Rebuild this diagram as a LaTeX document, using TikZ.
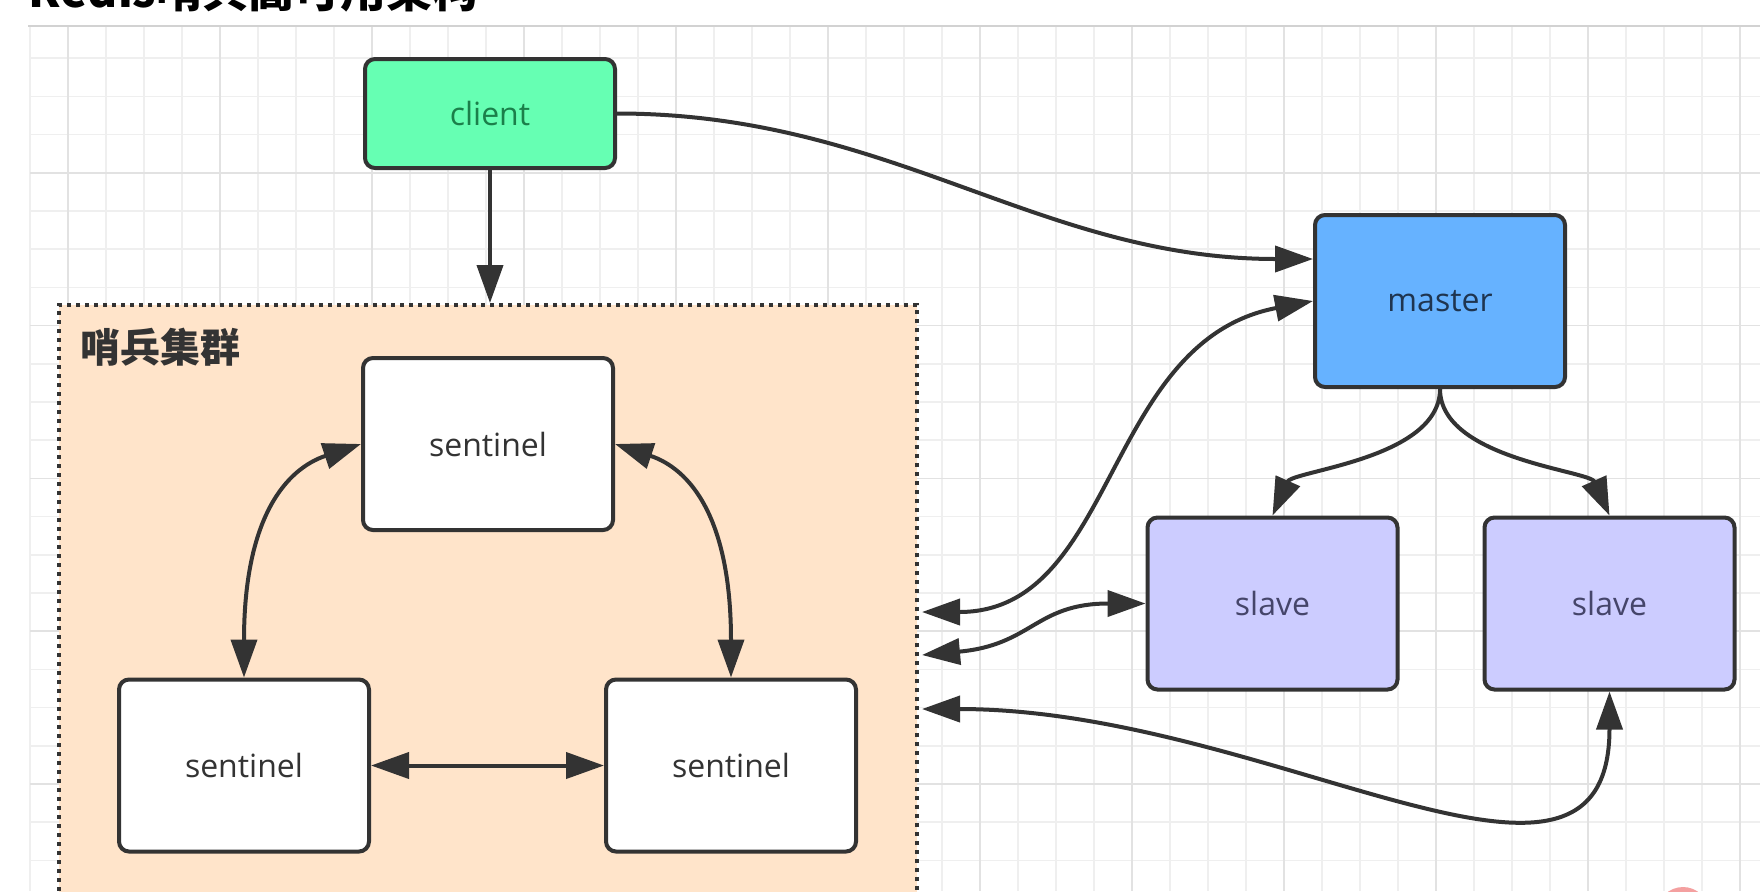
\documentclass[tikz,border=0pt]{standalone}
\usepackage{fontspec}
\setmainfont{Open Sans}
\newfontfamily\cjk{Noto Sans CJK SC}
\usetikzlibrary{positioning,calc,arrows.meta}
\definecolor{lnd}{HTML}{333333}
\definecolor{clifill}{HTML}{66FFB3}
\definecolor{clitxt}{HTML}{1B7F4A}
\definecolor{mstfill}{HTML}{66B2FF}
\definecolor{msttxt}{HTML}{1F3550}
\definecolor{slvfill}{HTML}{CCCCFF}
\definecolor{slvtxt}{HTML}{45456A}
\definecolor{grpfill}{HTML}{FFE4CA}
\definecolor{gridmin}{HTML}{EFEFEF}
\definecolor{gridmaj}{HTML}{E2E2E2}
\definecolor{sepline}{HTML}{D2D2D2}
\definecolor{marca}{HTML}{F4A0A0}
\tikzset{
  caixa/.style={draw=lnd,line width=2pt,rounded corners=5pt,minimum width=125pt,minimum height=86pt,
    font=\fontsize{16}{19}\selectfont,text=lnd,inner sep=0pt},
  grupo/.style={draw=lnd,fill=grpfill,line width=2pt,dash pattern=on 2pt off 2.5pt,
    minimum width=429pt,minimum height=300pt,inner sep=0pt},
  rotulo/.style={font=\cjk\bfseries\fontsize{20}{24}\selectfont,text=lnd,inner sep=0pt},
  titulo/.style={font=\cjk\bfseries\fontsize{23}{27}\selectfont,text=black,inner sep=0pt},
  seta/.style={draw=lnd,line width=2pt,-{Triangle[length=19pt,width=13pt]}},
  dupla/.style={draw=lnd,line width=2pt,{Triangle[length=19pt,width=13pt]}-{Triangle[length=19pt,width=13pt]}},
}
\begin{document}
\begin{tikzpicture}[x=0.5pt,y=-0.5pt]
  \useasboundingbox (0,0) rectangle (1760,891);
  \clip (0,0) rectangle (1760,891);
  \fill[white] (0,0) rectangle (1760,891);
  % grade de fundo
  \foreach \k in {0,...,45} \draw[gridmin,line width=0.8pt] (30+38*\k,26) -- (30+38*\k,891);
  \foreach \k in {1,...,22} \draw[gridmin,line width=0.8pt] (30,20+38.2*\k) -- (1760,20+38.2*\k);
  \foreach \k in {1,5,...,45} \draw[gridmaj,line width=0.8pt] (30+38*\k,26) -- (30+38*\k,891);
  \foreach \k in {4,8,...,20} \draw[gridmaj,line width=0.8pt] (30,20+38.2*\k) -- (1760,20+38.2*\k);
  \draw[sepline,line width=1pt] (28,26) -- (1760,26);
  \node[titulo,anchor=base west] (titulo) at (28,7) {Redis哨兵高可用架构};
  % cluster de sentinelas
  \node[grupo] (cluster) at (488,605) {};
  \node[rotulo,anchor=base west] (rotgrupo) at (80,362) {哨兵集群};
  \node[caixa,fill=white] (sentA) at (488,444) {sentinel};
  \node[caixa,fill=white] (sentB) at (244,765.5) {sentinel};
  \node[caixa,fill=white,right=116.5pt of sentB] (sentC) {sentinel};
  % client, master, slaves
  \node[caixa,fill=clifill,text=clitxt,minimum height=54.5pt] (client) at (490,113.5) {client};
  \node[caixa,fill=mstfill,text=msttxt] (master) at (1440,301) {master};
  \node[caixa,fill=slvfill,text=slvtxt] (slave1) at (1272.5,603.5) {slave};
  \node[caixa,fill=slvfill,text=slvtxt,right=41.5pt of slave1] (slave2) {slave};
  \coordinate (cm) at ($(cluster.east)+(3,7)$);
  \coordinate (cs1) at ($(cluster.east)+(3,50)$);
  \coordinate (cs2) at ($(cluster.east)+(3,104)$);
  % ligacoes
  \draw[seta] (client.south) -- (client.south |- cluster.north);
  \draw[seta] (client.east) .. controls +(274,0) and +(-274,0) .. ([yshift=21pt]master.west);
  \draw[dupla] (cm) .. controls +(195,0) and +(-210,40) .. (master.west);
  \draw[dupla] (cs1) .. controls +(110,-10) and +(-110,0) .. (slave1.west);
  \draw[dupla] (cs2) .. controls +(350,0) and +(0,260) .. (slave2.south);
  \draw[seta] (master.south) .. controls +(0,70) and +(20,-45) .. (slave1.north);
  \draw[seta] (master.south) .. controls +(0,70) and +(-20,-45) .. (slave2.north);
  \draw[dupla] (sentA.west) .. controls +(-75,25) and +(0,-160) .. (sentB.north);
  \draw[dupla] (sentA.east) .. controls +(75,25) and +(0,-160) .. (sentC.north);
  \draw[dupla] (sentB) -- (sentC);
  \fill[marca] (1683,913) circle (26);
\end{tikzpicture}
\end{document}
